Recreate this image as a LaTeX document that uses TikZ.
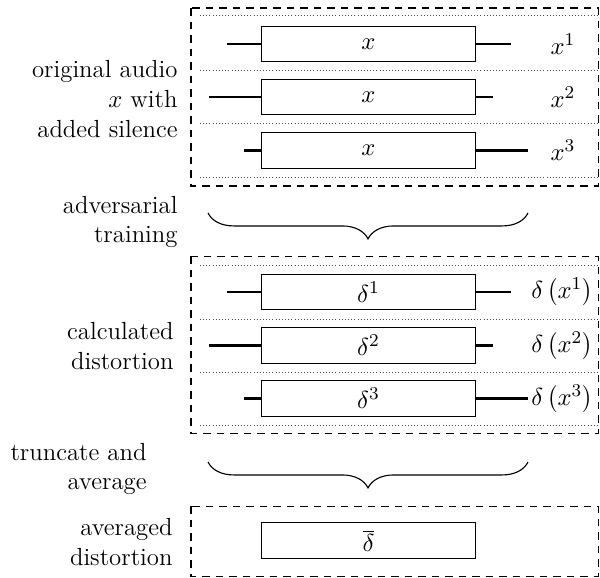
\documentclass[tikz,border=0pt]{standalone}
\usetikzlibrary{decorations.pathreplacing}
\begin{document}
\begin{tikzpicture}[x=0.4444pt,y=-0.4444pt,
  every node/.style={font=\fontsize{11}{13.2}\selectfont},
  sigbox/.style={draw,line width=0.45pt,inner sep=0pt,minimum width=94.7pt,minimum height=15.8pt},
  conn/.style={line width=0.9pt},
  grp/.style={dash pattern=on 3.5pt off 2.5pt,line width=0.45pt},
  sep/.style={densely dotted,line width=0.4pt,black!70},
  lab/.style={inner sep=0pt,align=right,anchor=east},
  brc/.style={decorate,decoration={brace,mirror,amplitude=11.5pt},line width=0.5pt},
  outlab/.style={inner sep=0pt}]
\useasboundingbox (0,0) rectangle (600,577);
% group 1
\draw[grp] (191,8) rectangle (598,186);
\foreach \y in {15,70,123,177} \draw[sep] (200,\y) -- (598,\y);
\node[sigbox] (a1) at (368.5,44) {$x$};
\node[sigbox] (a2) at (368.5,97) {$x$};
\node[sigbox] (a3) at (368.5,150.5) {$x$};
\coordinate (a1l) at (227,44); \coordinate (a1r) at (511,44);
\coordinate (a2l) at (209,97); \coordinate (a2r) at (493,97);
\coordinate (a3l) at (244,150.5); \coordinate (a3r) at (528,150.5);
\foreach \i in {1,2,3} {\draw[conn] (a\i l) -- (a\i.west); \draw[conn] (a\i.east) -- (a\i r);}
\node[outlab] (ax1) at (563,44) {$x^1$};
\node[outlab] (ax2) at (563,97) {$x^2$};
\node[outlab] (ax3) at (563,150.5) {$x^3$};
\node[lab] (t1) at (178,99) {original audio\\$x$ with\\added silence};
% brace 1
\coordinate (b1s) at (208,213); \coordinate (b1e) at (528,213);
\draw[brc] (b1s) -- (b1e);
\node[lab] (t2) at (178,222) {adversarial\\training};
% group 2
\draw[grp] (191,256) rectangle (598,433);
\foreach \y in {265,319,372,425} \draw[sep] (200,\y) -- (598,\y);
\node[sigbox] (d1) at (368.5,292) {$\delta^1$};
\node[sigbox] (d2) at (368.5,345.5) {$\delta^2$};
\node[sigbox] (d3) at (368.5,398.5) {$\delta^3$};
\coordinate (d1l) at (227,292); \coordinate (d1r) at (511,292);
\coordinate (d2l) at (209,345.5); \coordinate (d2r) at (493,345.5);
\coordinate (d3l) at (244,398.5); \coordinate (d3r) at (528,398.5);
\foreach \i in {1,2,3} {\draw[conn] (d\i l) -- (d\i.west); \draw[conn] (d\i.east) -- (d\i r);}
\node[outlab] (dx1) at (562,292) {$\delta\left(x^1\right)$};
\node[outlab] (dx2) at (562,345.5) {$\delta\left(x^2\right)$};
\node[outlab] (dx3) at (562,398.5) {$\delta\left(x^3\right)$};
\node[lab] (t3) at (174,346) {calculated\\distortion};
% brace 2
\coordinate (b2s) at (208,462); \coordinate (b2e) at (528,462);
\draw[brc] (b2s) -- (b2e);
\node[lab] (t4) at (147,469) {truncate and\\average};
% group 3
\draw[grp] (191,506) rectangle (598,576);
\node[sigbox] (m) at (368.5,540.5) {$\overline{\delta}$};
\node[lab] (t5) at (173,542) {averaged\\distortion};
\end{tikzpicture}
\end{document}
